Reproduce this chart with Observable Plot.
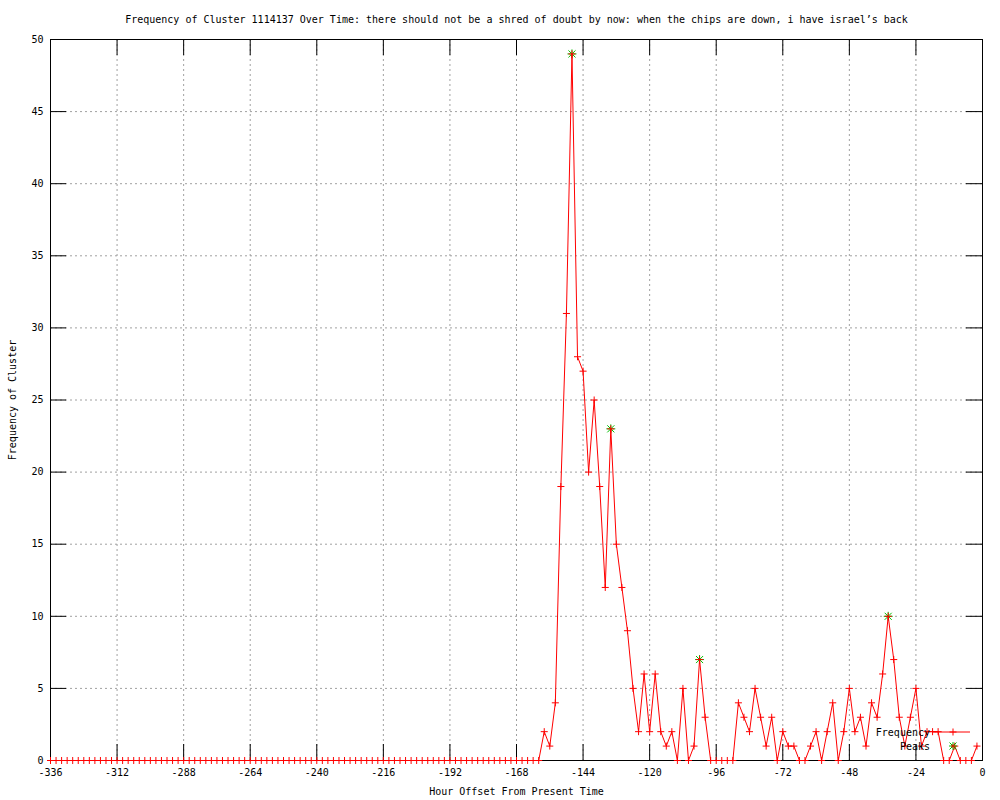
<!DOCTYPE html>
<html>
<head>
<meta charset="utf-8">
<script src="https://cdn.jsdelivr.net/npm/d3@7"></script>
<script src="https://cdn.jsdelivr.net/npm/@observablehq/plot@0.6"></script>
<style>
  html, body { margin: 0; padding: 0; background: #fff; }
  #wrap { position: relative; width: 1000px; height: 800px; }
  #legend { position: absolute; left: 0; top: 0; pointer-events: none; }
</style>
</head>
<body>
<div id="wrap"></div>
<script>
const titleText = "Frequency of Cluster 1114137 Over Time: there should not be a shred of doubt by now: when the chips are down, i have israel\u2019s back";
const xLabel = "Hour Offset From Present Time";
const yLabel = "Frequency of Cluster";

// hourly offsets sampled every 2 hours, -336 .. -2
const hours = d3.range(-336, 0, 2);
// frequency at each offset
const freq = [
  // -336 .. -160 (all zero)
  0,0,0,0,0,0,0,0,0,0, 0,0,0,0,0,0,0,0,0,0,
  0,0,0,0,0,0,0,0,0,0, 0,0,0,0,0,0,0,0,0,0,
  0,0,0,0,0,0,0,0,0,0, 0,0,0,0,0,0,0,0,0,0,
  0,0,0,0,0,0,0,0,0,0, 0,0,0,0,0,0,0,0,0,0,
  0,0,0,0,0,0,0,0,0,
  // -158 .. -2
  2,1,4,19,31,49,28,27,20,25,
  19,12,23,15,12,9,5,2,6,2,
  6,2,1,2,0,5,0,1,7,3,
  0,0,0,0,0,4,3,2,5,3,
  1,3,0,2,1,1,0,0,1,2,
  0,2,4,0,2,5,2,3,1,4,
  3,6,10,7,3,1,3,5,1,2,
  2,2,0,0,1,0,0,0,1
];
const peakHours = [-148, -134, -102, -34];
const peakValues = [49, 23, 7, 10];

const xTicks = [-336, -312, -288, -264, -240, -216, -192, -168, -144, -120, -96, -72, -48, -24, 0];
const yTicks = [0, 5, 10, 15, 20, 25, 30, 35, 40, 45, 50];

const data = hours.map((h, i) => ({h, v: freq[i]}));
const peaks = peakHours.map((h, i) => ({h, v: peakValues[i]}));

const W = 1000, H = 800, mL = 50, mR = 18, mT = 39, mB = 40;
const frameW = W - mL - mR, frameH = H - mT - mB;
const tickLen = 16;
const grid = {stroke: "#a0a0a0", strokeOpacity: 1, strokeWidth: 1, strokeDasharray: "2,3"};

const chart = Plot.plot({
  width: W, height: H,
  marginLeft: mL, marginRight: mR, marginTop: mT, marginBottom: mB,
  style: {fontFamily: "'DejaVu Sans Mono', monospace", fontSize: "10px", background: "#fff", color: "#000"},
  x: {domain: [-336, 0], ticks: xTicks, tickSize: 0, tickPadding: 8, tickFormat: d => String(d),
      label: xLabel, labelAnchor: "center", labelOffset: 34, labelArrow: "none"},
  y: {domain: [0, 50], ticks: yTicks, tickSize: 0, tickPadding: 7, tickFormat: d => String(d),
      label: yLabel, labelAnchor: "center", labelOffset: 42, labelArrow: "none"},
  marks: [
    Plot.ruleX(xTicks.slice(1, -1), grid),
    Plot.ruleY(yTicks.slice(1, -1), grid),
    Plot.tickX(xTicks, {x: d => d, stroke: "#000", insetTop: frameH - tickLen}),
    Plot.tickX(xTicks, {x: d => d, stroke: "#000", insetBottom: frameH - tickLen}),
    Plot.tickY(yTicks, {y: d => d, stroke: "#000", insetRight: frameW - tickLen}),
    Plot.tickY(yTicks, {y: d => d, stroke: "#000", insetLeft: frameW - tickLen}),
    Plot.frame({stroke: "#000", strokeWidth: 1}),
    Plot.dot(peaks, {x: "h", y: "v", symbol: "times", r: 3.3, stroke: "#00c000", strokeWidth: 1}),
    Plot.dot(peaks, {x: "h", y: "v", symbol: "plus", r: 3.0, stroke: "#00c000", strokeWidth: 1}),
    Plot.line(data, {x: "h", y: "v", stroke: "#ff0000", strokeWidth: 1}),
    Plot.dot(data, {x: "h", y: "v", symbol: "plus", r: 2.4, stroke: "#ff0000", strokeWidth: 1}),
    Plot.text([titleText], {frameAnchor: "top", lineAnchor: "bottom", dy: -17, fontSize: 10, fill: "#000"})
  ]
});

const wrap = document.getElementById("wrap");
wrap.appendChild(chart);

// legend (bottom-right inside the frame, like gnuplot's key)
const ns = "http://www.w3.org/2000/svg";
const lg = document.createElementNS(ns, "svg");
lg.setAttribute("id", "legend");
lg.setAttribute("width", W);
lg.setAttribute("height", H);
lg.innerHTML = `
  <g font-family="'DejaVu Sans Mono', monospace" font-size="10px" fill="#000">
    <text x="930" y="735.5" text-anchor="end">Frequency</text>
    <text x="930" y="749.5" text-anchor="end">Peaks</text>
  </g>
  <line x1="933" y1="732" x2="970" y2="732" stroke="#ff0000"/>
  <path d="M949.5,732H956.5M953,728.5V735.5" stroke="#ff0000"/>
  <path d="M949.5,742.5L956.5,749.5M949.5,749.5L956.5,742.5M949,746H957M953,742V750" stroke="#00c000"/>
  <path d="M951,746H955M953,744V748" stroke="#ff0000"/>
`;
wrap.appendChild(lg);
</script>
</body>
</html>
